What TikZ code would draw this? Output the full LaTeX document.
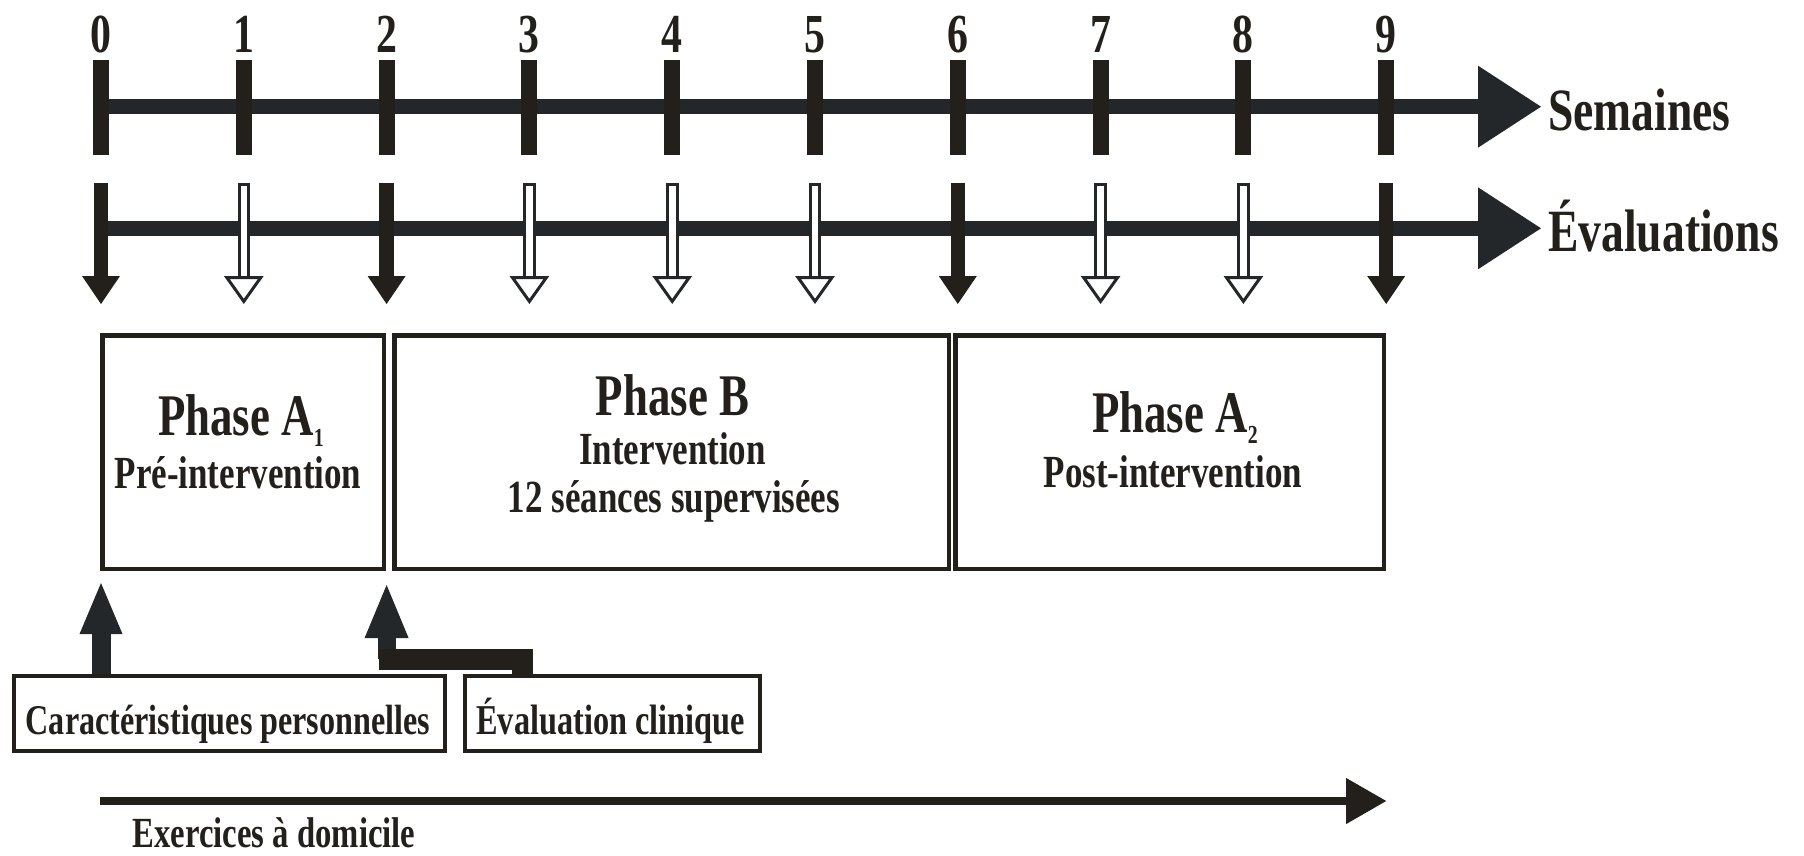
\documentclass[tikz,border=0pt]{standalone}
\usepackage{fontspec}
\setmainfont{Liberation Serif}[FakeStretch=0.76]
\usetikzlibrary{arrows.meta}
\newcommand\fsz[1]{\fontsize{#1}{#1}\selectfont}
\definecolor{ink}{RGB}{35,39,42}
\definecolor{tickc}{RGB}{35,31,27}
\begin{document}
\begin{tikzpicture}[x=1pt,y=-1pt,
  every node/.style={inner sep=0pt, text=tickc, font=\bfseries},
  axisline/.style={draw=ink, line width=15.3pt, -{Triangle[length=63pt,width=82pt,line width=0pt]}},
  ticka/.style={fill=tickc},
  evblack/.style={draw=tickc, line width=14.4pt, -{Triangle[length=28pt,width=38pt,line width=0pt]}},
  evwhite/.style={fill=white, draw=ink, line width=3pt, line join=miter},
  phasebox/.style={draw=tickc, line width=4.5pt, fill=none},
  smallbox/.style={draw=tickc, line width=4pt, fill=none},
  uparrow/.style={draw=ink, line width=19pt, -{Triangle[length=51pt,width=43pt,line width=0pt]}},
  barline/.style={draw=tickc, line width=21pt, line join=miter},
  homeline/.style={draw=tickc, line width=8pt, -{Triangle[length=40pt,width=46pt,line width=0pt]}},
  num/.style={anchor=base, font=\bfseries\fsz{55}},
  axlabel/.style={anchor=base west, font=\bfseries\fsz{60}},
  ptitle/.style={anchor=base, font=\bfseries\fsz{59}},
  psub/.style={anchor=base, font=\bfseries\fsz{46}},
  btext/.style={anchor=base, font=\bfseries\fsz{43}}
]
\useasboundingbox (0,0) rectangle (1804,856);

% week coordinates
\foreach \i in {0,...,9}{
  \pgfmathsetmacro\xx{101+142.8*\i}
  \coordinate (w\i) at (\xx,0);
}

% top axis (weeks)
\coordinate (semS) at (101,106.7);
\coordinate (semE) at (1541,106.7);
\draw[axisline] (semS) -- (semE);
\foreach \i in {0,...,9}{
  \pgfmathsetmacro\xx{101+142.8*\i}
  \fill[ticka] (\xx-8,60) rectangle (\xx+8,155);
  \node[num] (n\i) at (\xx,53) {\i};
}
\node[axlabel] (sem) at (1548,130.7) {Semaines};

% evaluation axis
\coordinate (evS) at (101,228.3);
\coordinate (evE) at (1541,228.3);
\draw[axisline] (evS) -- (evE);
\node[axlabel] (eva) at (1548,251.7) {Évaluations};

\foreach \i in {0,2,6,9}{
  \pgfmathsetmacro\xx{101+142.8*\i}
  \draw[evblack] (\xx,183) -- (\xx,304);
}
\foreach \i in {1,3,4,5,7,8}{
  \pgfmathsetmacro\xx{101+142.8*\i}
  \filldraw[evwhite] (\xx-4.8,184.5) rectangle (\xx+4.8,277.5);
  \filldraw[evwhite] (\xx-17,277.5) -- (\xx+17,277.5) -- (\xx,301.4) -- cycle;
}

% phase boxes
\node[phasebox, minimum width=281.5pt, minimum height=233.5pt] (pa1) at (243,452) {};
\node[phasebox, minimum width=554.5pt, minimum height=233.5pt] (pb) at (671.5,452) {};
\node[phasebox, minimum width=428.5pt, minimum height=233.5pt] (pa2) at (1169.5,452) {};

\node[ptitle] (pa1t) at (241,435) {Phase A\raisebox{-11pt}{\fsz{26}1}};
\node[psub] (pa1s) at (238,488) {Pré-intervention};

\node[ptitle] (pbt) at (672.5,415) {Phase B};
\node[psub] (pbs1) at (672.5,464) {Intervention};
\node[psub] (pbs2) at (674,512) {12 séances supervisées};

\node[ptitle] (pa2t) at (1175,432) {Phase A\raisebox{-11pt}{\fsz{26}2}};
\node[psub] (pa2s) at (1173,487) {Post-intervention};

% bottom boxes
\node[smallbox, minimum width=431pt, minimum height=75pt] (car) at (229.5,713.5) {};
\node[btext, font=\bfseries\fsz{42.3}] (cart) at (228,734) {Caractéristiques personnelles};
\node[smallbox, minimum width=295pt, minimum height=75pt] (ec) at (612.5,713.5) {};
\node[btext, font=\bfseries\fsz{42.5}] (ect) at (610.5,734) {Évaluation clinique};

% up arrows
\draw[uparrow, shorten >=12pt] (w0 |- car.north) -- (w0 |- pa1.south);
\coordinate (ecx) at (522,0);
\coordinate (bj) at (379,659);
\draw[uparrow, line width=18pt, -{Triangle[length=53pt,width=44pt,line width=0pt]}, shorten >=14pt] (w2 |- bj) -- (w2 |- pa1.south);
\draw[barline] (ec.north -| ecx) |- (bj);

% home exercises arrow
\coordinate (exS) at (100,801);
\coordinate (exE) at (w9 |- exS);
\draw[homeline] (exS) -- (exE);
\node[btext, text depth=0pt] (ex) at (274,847) {Exercices à domicile};
\end{tikzpicture}
\end{document}
